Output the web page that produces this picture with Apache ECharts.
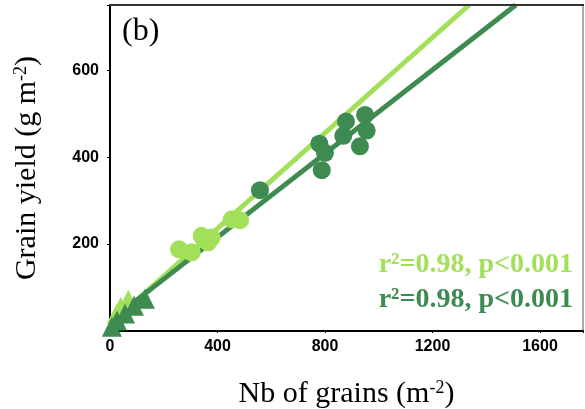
<!DOCTYPE html>
<html><head><meta charset="utf-8">
<script src="https://cdn.jsdelivr.net/npm/echarts@6/dist/echarts.min.js"></script>
<style>html,body{margin:0;padding:0;background:#fff}#c{width:585px;height:409px}</style>
</head><body><div id="c"></div>
<script>
// Data
const xTicks = [0, 400, 800, 1200, 1600];
const yTicks = [200, 400, 600];
const lightCircles = [[257,188],[304,181],[341,219],[365,204],[378,215],[453,257],[484,255]];
const darkCircles = [[558,324],[779,431],[800,410],[788,370],[878,482],[868,449],[949,497],[955,461],[930,425]];
const lightTriangles = [[68,72],[40,56],[25,40]];
const darkTriangles = [[130,74],[89,58],[56,40],[26,24],[7,10]];
const lightFit = [[25,30],[1336,750]];
const darkFit = [[35,40],[1510,750]];
const statsText = ['r\u00b2=0.98, p<0.001', 'r\u00b2=0.98, p<0.001'];

const LIGHT = '#a3e05a', DARK = '#3d8b50';
const chart = echarts.init(document.getElementById('c'));
chart.setOption({
  animation: false,
  grid: {left: 110, right: 2, top: 5, bottom: 78, outerBoundsMode: 'none', containLabel: false,
    show: true, borderColor: '#333', borderWidth: 2, backgroundColor: 'transparent'},
  xAxis: [{
    type: 'value', min: 0, max: 1760, interval: 400,
    axisLine: {show: true, onZero: false, lineStyle: {color: '#000', width: 2}},
    axisTick: {show: true, length: 2, lineStyle: {color: '#000'}},
    splitLine: {show: false},
    axisLabel: {color: '#000', fontFamily: 'Liberation Sans', fontWeight: 'bold', fontSize: 16, margin: 8,
      formatter: v => xTicks.includes(v) ? String(v) : ''},
    name: '{a|Nb of grains (m}{s|-2}{a|)}', nameLocation: 'middle', nameGap: 48,
    nameTextStyle: {rich: {
      a: {fontFamily: 'Liberation Serif', fontSize: 30, color: '#000'},
      s: {fontFamily: 'Liberation Serif', fontSize: 18, color: '#000', verticalAlign: 'top', padding: [0,0,13,0]}
    }}
  }, {
    type: 'value', position: 'top', min: 0, max: 1760,
    axisLine: {show: true, onZero: false, lineStyle: {color: '#333', width: 2}},
    axisTick: {show: false}, axisLabel: {show: false}, splitLine: {show: false}
  }],
  yAxis: [{
    type: 'value', min: 0, max: 750, interval: 200,
    axisLine: {show: true, onZero: false, lineStyle: {color: '#000', width: 2}},
    axisTick: {show: true, length: 3, lineStyle: {color: '#000'}},
    splitLine: {show: false},
    axisLabel: {color: '#000', fontFamily: 'Liberation Sans', fontWeight: 'bold', fontSize: 16, margin: 11,
      formatter: v => yTicks.includes(v) ? String(v) : ''},
    name: '{a|Grain yield (g m}{s|-2}{a|)}', nameLocation: 'middle', nameGap: 67, nameRotate: 90,
    nameTextStyle: {rich: {
      a: {fontFamily: 'Liberation Serif', fontSize: 30, color: '#000'},
      s: {fontFamily: 'Liberation Serif', fontSize: 18, color: '#000', verticalAlign: 'top', padding: [0,0,13,0]}
    }}
  }, {
    type: 'value', position: 'right', min: 0, max: 750,
    axisLine: {show: true, onZero: false, lineStyle: {color: '#aaa', width: 2}},
    axisTick: {show: false}, axisLabel: {show: false}, splitLine: {show: false}
  }],
  series: [
    {type: 'line', data: lightFit, symbol: 'none', lineStyle: {color: LIGHT, width: 5}, z: 2},
    {type: 'line', data: darkFit, symbol: 'none', lineStyle: {color: DARK, width: 5}, z: 2},
    {type: 'scatter', data: lightTriangles, symbol: 'triangle', symbolSize: 20, itemStyle: {color: LIGHT, opacity: 1}, z: 3},
    {type: 'scatter', data: darkTriangles, symbol: 'triangle', symbolSize: 20, itemStyle: {color: DARK, opacity: 1}, z: 4},
    {type: 'scatter', data: lightCircles, symbol: 'circle', symbolSize: 18, itemStyle: {color: LIGHT, opacity: 1}, z: 3},
    {type: 'scatter', data: darkCircles, symbol: 'circle', symbolSize: 18, itemStyle: {color: DARK, opacity: 1}, z: 4}
  ],
  graphic: [
    {type: 'line', shape: {x1: 109, y1: 5, x2: 584, y2: 5}, style: {stroke: '#333', lineWidth: 2}, z: 10},
    {type: 'text', left: 122, top: 16, style: {text: '(b)', font: '32px "Liberation Serif"', fill: '#000'}},
    {type: 'text', right: 12, top: 251, style: {text: statsText[0], font: 'bold 28px "Liberation Serif"', fill: LIGHT}},
    {type: 'text', right: 12, top: 286, style: {text: statsText[1], font: 'bold 28px "Liberation Serif"', fill: DARK}}
  ]
});
</script></body></html>
